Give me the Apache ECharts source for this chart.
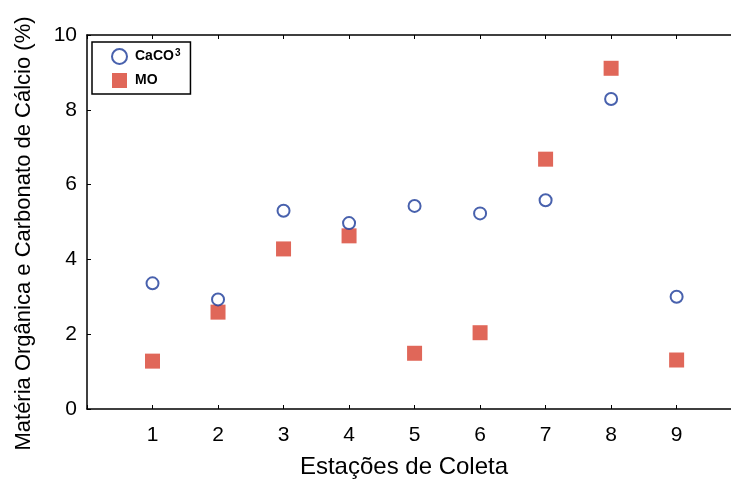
<!DOCTYPE html>
<html>
<head>
<meta charset="utf-8">
<script src="https://cdn.jsdelivr.net/npm/echarts@6/dist/echarts.min.js"></script>
<style>html,body{margin:0;padding:0;background:#fff}#c{width:731px;height:482px}</style>
</head>
<body>
<div id="c"></div>
<script>
const stations = [1, 2, 3, 4, 5, 6, 7, 8, 9];
const caco3 = [3.36, 2.93, 5.30, 4.97, 5.43, 5.23, 5.58, 8.29, 3.00];
const mo = [1.28, 2.59, 4.28, 4.63, 1.49, 2.04, 6.68, 9.11, 1.31];
const xTickLabels = ['1', '2', '3', '4', '5', '6', '7', '8', '9'];
const yTickLabels = ['0', '2', '4', '6', '8', '10'];

const chart = echarts.init(document.getElementById('c'), null, {renderer: 'canvas'});
const font = '"Liberation Sans", Arial, sans-serif';
const xCommon = {type: 'value', min: 0, max: 9.83, interval: 1};
chart.setOption({
  animation: false,
  backgroundColor: '#fff',
  grid: {left: 87, top: 35, right: 0, bottom: 73, show: false, containLabel: false, outerBoundsMode: 'none'},
  legend: {
    left: 92, top: 42, orient: 'vertical',
    borderColor: '#000', borderWidth: 1.5,
    padding: [6, 10, 6, 19], itemGap: 8, itemWidth: 15, itemHeight: 15,
    formatter: n => n === 'CaCO³' ? 'CaCO{sup|3}' : n,
    textStyle: {
      fontFamily: font, fontSize: 14, fontWeight: 'bold', color: '#000', padding: [0, 0, 0, 3],
      rich: {sup: {fontFamily: font, fontSize: 10, fontWeight: 'bold', color: '#000', padding: [0, 0, 7, 1]}}
    },
    data: ['CaCO³', 'MO']
  },
  xAxis: [Object.assign({}, xCommon, {
    name: 'Estações de Coleta', nameLocation: 'middle', nameGap: 46,
    nameTextStyle: {fontFamily: font, fontSize: 24, color: '#000', padding: [0, 10, 0, 0]},
    axisLine: {show: true, lineStyle: {color: '#000', width: 1.5}},
    axisTick: {show: true, inside: true, length: 4, lineStyle: {color: '#000'}},
    axisLabel: {
      fontFamily: font, fontSize: 21, color: '#000', margin: 16,
      formatter: v => { const i = stations.indexOf(v); return i >= 0 ? xTickLabels[i] : ''; }
    },
    splitLine: {show: false}
  }), Object.assign({}, xCommon, {
    position: 'top',
    axisLine: {show: true, lineStyle: {color: '#000', width: 1.5}},
    axisTick: {show: true, inside: true, length: 4, lineStyle: {color: '#000'}},
    axisLabel: {show: false},
    splitLine: {show: false}
  })],
  yAxis: {
    type: 'value', min: 0, max: 10, interval: 2,
    name: 'Matéria Orgânica e Carbonato de Cálcio (%)', nameLocation: 'middle', nameGap: 52,
    nameTextStyle: {fontFamily: font, fontSize: 22, color: '#000', padding: [0, 23, 0, 0]},
    axisLine: {show: true, lineStyle: {color: '#000', width: 1.5}},
    axisTick: {show: true, inside: true, length: 4, lineStyle: {color: '#000'}},
    axisLabel: {
      fontFamily: font, fontSize: 21, color: '#000', margin: 10,
      formatter: v => yTickLabels[Math.round(v / 2)]
    },
    splitLine: {show: false}
  },
  series: [
    {
      name: 'CaCO³', type: 'scatter', symbol: 'circle', symbolSize: 12, z: 3,
      itemStyle: {color: '#fff', borderColor: '#1a3a98', borderWidth: 2},
      data: stations.map((s, i) => [s, caco3[i]])
    },
    {
      name: 'MO', type: 'scatter', symbol: 'rect', symbolSize: 15, z: 2,
      itemStyle: {color: '#d8412f'},
      data: stations.map((s, i) => [s, mo[i]])
    }
  ]
});
</script>
</body>
</html>
